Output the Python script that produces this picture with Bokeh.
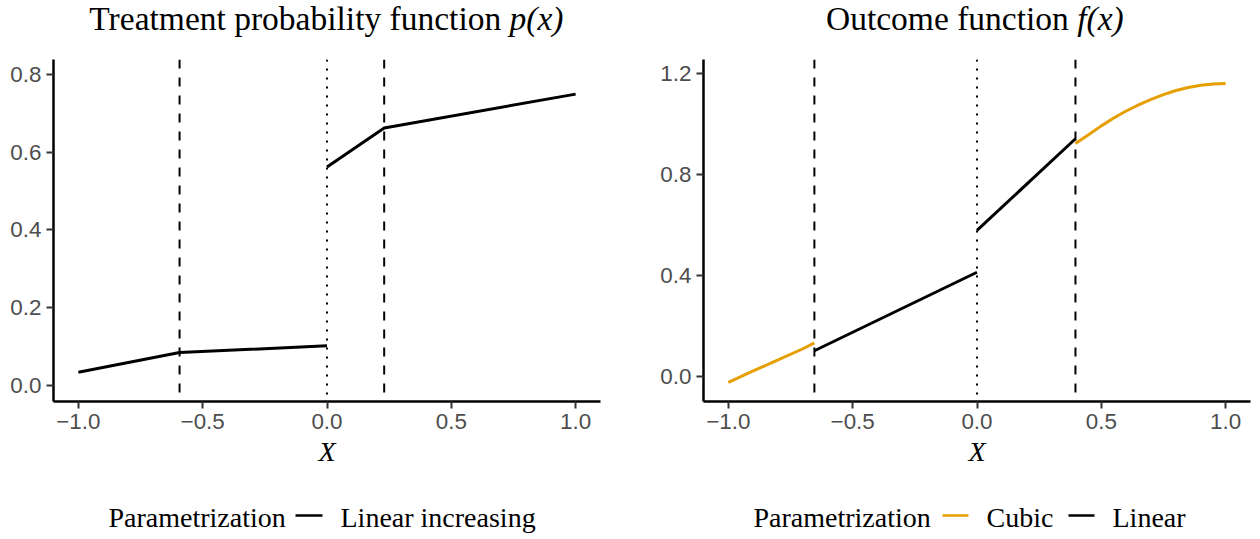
from bokeh.plotting import figure
from bokeh.layouts import row, column
from bokeh.models import Range1d, Span, FixedTicker
from bokeh.core.properties import value
from bokeh.embed import file_html
from bokeh.resources import INLINE

# ---------------- data ----------------
# Left panel: treatment probability p(x)
p_left_x = [-1.0, -0.593, 0.0]
p_left_y = [0.034, 0.085, 0.102]
p_right_x = [0.0, 0.230, 1.0]
p_right_y = [0.562, 0.662, 0.749]
p_dashed = [-0.593, 0.230]
p_dotted = [0.0]

# Right panel: outcome f(x)
f_cubic_left_x = [-1.0, -0.9, -0.8, -0.7, -0.654]
f_cubic_left_y = [-0.025, 0.020, 0.064, 0.108, 0.131]
f_lin_left_x = [-0.654, 0.0]
f_lin_left_y = [0.100, 0.411]
f_lin_right_x = [0.0, 0.396]
f_lin_right_y = [0.577, 0.940]
f_cubic_right_x = [0.396, 0.45, 0.5, 0.55, 0.6, 0.65, 0.7, 0.75, 0.8, 0.85, 0.9, 0.95, 1.0]
f_cubic_right_y = [0.921, 0.957, 0.991, 1.022, 1.050, 1.074, 1.096, 1.115, 1.131, 1.143, 1.152, 1.157, 1.159]
f_dashed = [-0.654, 0.396]
f_dotted = [0.0]

x_ticks = [-1.0, -0.5, 0.0, 0.5, 1.0]
x_tick_labels = ["\u22121.0", "\u22120.5", "0.0", "0.5", "1.0"]
p_y_ticks = [0.0, 0.2, 0.4, 0.6, 0.8]
p_y_tick_labels = ["0.0", "0.2", "0.4", "0.6", "0.8"]
f_y_ticks = [0.0, 0.4, 0.8, 1.2]
f_y_tick_labels = ["0.0", "0.4", "0.8", "1.2"]

title_left_plain = "Treatment probability function"
title_left_italic = "p(x)"
title_right_plain = "Outcome function"
title_right_italic = "f(x)"
x_label = "X"
legend_title = "Parametrization"
legend_left_items = ["Linear increasing"]
legend_right_items = ["Cubic", "Linear"]

BLACK = "#000000"
ORANGE = "#E69F00"
SERIF = "Liberation Serif"
SANS = "Liberation Sans"

# panel frame edges in page pixels (left, right)
LEFT_FRAME = (53, 600)
RIGHT_FRAME = (703, 1250)


def main_plot(y_range, y_ticks, y_labels, border_left, border_right):
    p = figure(width=630, height=430, output_backend="svg", toolbar_location=None,
               title=None, x_range=Range1d(-1.1, 1.1), y_range=y_range,
               min_border_left=border_left, min_border_right=border_right,
               min_border_top=9, min_border_bottom=79)
    p.xgrid.visible = False
    p.ygrid.visible = False
    p.outline_line_color = None
    p.background_fill_color = "white"
    p.border_fill_color = "white"
    p.xaxis.ticker = FixedTicker(ticks=x_ticks)
    p.xaxis.major_label_overrides = {t: l for t, l in zip(x_ticks, x_tick_labels)}
    p.yaxis.ticker = FixedTicker(ticks=y_ticks)
    p.yaxis.major_label_overrides = {t: l for t, l in zip(y_ticks, y_labels)}
    for ax in (p.xaxis, p.yaxis):
        ax.axis_line_color = BLACK
        ax.axis_line_width = 2.5
        ax.major_tick_line_color = "#333333"
        ax.major_tick_line_width = 2
        ax.major_tick_in = 0
        ax.major_tick_out = 7
        ax.minor_tick_line_color = None
        ax.major_label_text_font = SANS
        ax.major_label_text_font_size = "22.4px"
        ax.major_label_text_color = "#4D4D4D"
        ax.major_label_standoff = 5
    p.xaxis.axis_label = x_label
    p.xaxis.axis_label_text_font = SERIF
    p.xaxis.axis_label_text_font_style = "italic"
    p.xaxis.axis_label_text_font_size = "28px"
    p.xaxis.axis_label_text_color = BLACK
    p.xaxis.axis_label_standoff = 4
    return p


def text_fig(x_start, frame, y_top, y_bottom):
    f = figure(width=630, height=y_bottom - y_top, output_backend="svg", toolbar_location=None,
               title=None, x_range=Range1d(frame[0], frame[1]), y_range=Range1d(y_bottom, y_top),
               x_axis_type=None, y_axis_type=None,
               min_border_left=frame[0] - x_start, min_border_right=x_start + 630 - frame[1],
               min_border_top=0, min_border_bottom=0)
    f.xgrid.visible = False
    f.ygrid.visible = False
    f.outline_line_color = None
    return f


# ---------------- left panel ----------------
p1 = main_plot(Range1d(-0.041, 0.838), p_y_ticks, p_y_tick_labels,
               LEFT_FRAME[0], 630 - LEFT_FRAME[1])
for loc in p_dashed:
    p1.add_layout(Span(location=loc, dimension="height", line_color=BLACK, line_width=2, line_dash="9 9"))
for loc in p_dotted:
    p1.add_layout(Span(location=loc, dimension="height", line_color=BLACK, line_width=2, line_dash="2 7"))
p1.line(p_left_x, p_left_y, line_color=BLACK, line_width=3)
p1.line(p_right_x, p_right_y, line_color=BLACK, line_width=3)

# ---------------- right panel ----------------
p2 = main_plot(Range1d(-0.101, 1.254), f_y_ticks, f_y_tick_labels,
               RIGHT_FRAME[0] - 630, 1260 - RIGHT_FRAME[1])
for loc in f_dashed:
    p2.add_layout(Span(location=loc, dimension="height", line_color=BLACK, line_width=2, line_dash="9 9"))
for loc in f_dotted:
    p2.add_layout(Span(location=loc, dimension="height", line_color=BLACK, line_width=2, line_dash="2 7"))
p2.line(f_cubic_left_x, f_cubic_left_y, line_color=ORANGE, line_width=3)
p2.line(f_lin_left_x, f_lin_left_y, line_color=BLACK, line_width=3)
p2.line(f_lin_right_x, f_lin_right_y, line_color=BLACK, line_width=3)
p2.line(f_cubic_right_x, f_cubic_right_y, line_color=ORANGE, line_width=3)

# ---------------- titles ----------------
TITLE_Y = 17.5
t1 = text_fig(0, LEFT_FRAME, 0, 50)
t1.text(x=[500.7], y=[TITLE_Y], text=[title_left_plain], text_font=value(SERIF),
        text_font_size=value("33.5px"), text_align="right", text_baseline="alphabetic", text_color=BLACK)
t1.text(x=[509.1], y=[TITLE_Y], text=[title_left_italic], text_font=value(SERIF), text_font_style="italic",
        text_font_size=value("33.5px"), text_align="left", text_baseline="alphabetic", text_color=BLACK)

t2 = text_fig(630, RIGHT_FRAME, 0, 50)
t2.text(x=[1068.3], y=[TITLE_Y], text=[title_right_plain], text_font=value(SERIF),
        text_font_size=value("33.5px"), text_align="right", text_baseline="alphabetic", text_color=BLACK)
t2.text(x=[1076.7], y=[TITLE_Y], text=[title_right_italic], text_font=value(SERIF), text_font_style="italic",
        text_font_size=value("33.5px"), text_align="left", text_baseline="alphabetic", text_color=BLACK)

# ---------------- legends ----------------
LEG_BASE = 517
LEG_LINE_Y = 515
l1 = text_fig(0, LEFT_FRAME, 480, 539)
l1.text(x=[108, 340], y=[LEG_BASE, LEG_BASE], text=[legend_title, legend_left_items[0]],
        text_font=value(SERIF), text_font_size=value("28px"), text_align="left",
        text_baseline="alphabetic", text_color=BLACK)
l1.segment(x0=[295], y0=[LEG_LINE_Y], x1=[322], y1=[LEG_LINE_Y], line_color=BLACK, line_width=2.5)

l2 = text_fig(630, RIGHT_FRAME, 480, 539)
l2.text(x=[753, 986, 1112], y=[LEG_BASE] * 3, text=[legend_title] + legend_right_items,
        text_font=value(SERIF), text_font_size=value("28px"), text_align="left",
        text_baseline="alphabetic", text_color=BLACK)
l2.segment(x0=[942, 1068], y0=[LEG_LINE_Y] * 2, x1=[968, 1094], y1=[LEG_LINE_Y] * 2,
           line_color=[ORANGE, BLACK], line_width=2.5)

layout = row(column(t1, p1, l1), column(t2, p2, l2))
open("out.html", "w").write(file_html(layout, INLINE))
